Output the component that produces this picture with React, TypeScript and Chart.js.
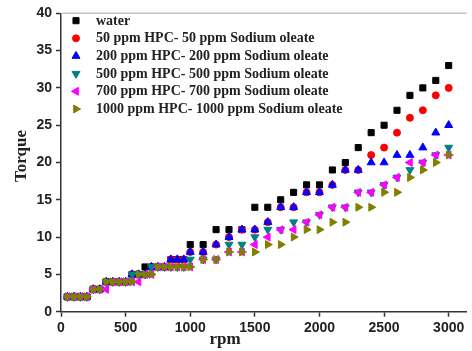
import React, { useEffect, useRef } from "react";
import { Chart, registerables } from "chart.js";

Chart.register(...registerables);

const rpm = [50, 100, 150, 200, 250, 300, 350, 400, 450, 500, 550, 600, 650, 700, 750, 800, 850, 900, 950, 1000,
  1100, 1200, 1300, 1400, 1500, 1600, 1700, 1800, 1900, 2000, 2100, 2200, 2300, 2400, 2500, 2600, 2700, 2800, 2900, 3000];

const water = [2, 2, 2, 2, 3, 3, 4, 4, 4, 4, 5, 5, 6, 6, 6, 6, 7, 7, 7, 9,
  9, 11, 11, 11, 14, 14, 15, 16, 17, 17, 19, 20, 22, 24, 25, 27, 29, 30, 31, 33];
const hpc50 = [2, 2, 2, 2, 3, 3, 4, 4, 4, 4, 5, 5, 5, 6, 6, 6, 7, 7, 7, 8,
  8, 9, 10, 11, 11, 12, 14, 14, 16, 16, 17, 19, 19, 21, 22, 24, 26, 27, 29, 30];
const hpc200 = [2, 2, 2, 2, 3, 3, 4, 4, 4, 4, 5, 5, 5, 6, 6, 6, 7, 7, 7, 8,
  8, 9, 10, 11, 11, 12, 14, 14, 16, 16, 17, 19, 19, 20, 20, 21, 21, 22, 24, 25];
const hpc500 = [2, 2, 2, 2, 3, 3, 4, 4, 4, 4, 5, 5, 5, 6, 6, 6, 6, 6, 6, 7,
  7, 7, 9, 9, 10, 11, 11, 12, 12, 13, 14, 14, 16, 16, 17, 18, 19, 20, 21, 22];
const hpc700 = [2, 2, 2, 2, 3, 3, 3, 4, 4, 4, 4, 4, 5, 5, 6, 6, 6, 6, 6, 6,
  7, 7, 8, 8, 9, 10, 11, 11, 12, 13, 14, 14, 16, 16, 17, 18, 20, 20, 21, 21];
const hpc1000 = [2, 2, 2, 2, 3, 3, 4, 4, 4, 4, 4, 5, 5, 5, 6, 6, 6, 6, 6, 6,
  7, 7, 8, 8, 8, 9, 9, 10, 11, 11, 12, 12, 14, 14, 16, 16, 18, 19, 20, 21];

const seriesLabels = [
  "water",
  "50 ppm HPC- 50 ppm Sodium oleate",
  "200 ppm HPC- 200 ppm Sodium oleate",
  "500 ppm HPC- 500 ppm Sodium oleate",
  "700 ppm HPC- 700 ppm Sodium oleate",
  "1000 ppm HPC- 1000 ppm Sodium oleate",
];
const seriesValues = [water, hpc50, hpc200, hpc500, hpc700, hpc1000];
const seriesColors = ["#000000", "#ff0000", "#0000ff", "#008080", "#ff00ff", "#808000"];
const seriesStyles = ["rect", "circle", "triangle", "triangle", "triangle", "triangle"];
const seriesRotations = [0, 0, 0, 180, 270, 90];
const seriesRadius = [4.3, 3.5, 4.6, 4.6, 4.6, 4.6];

const xTicks = [0, 500, 1000, 1500, 2000, 2500, 3000];
const yTicks = [0, 5, 10, 15, 20, 25, 30, 35, 40];
const xTitle = "rpm";
const yTitle = "Torque";

const W = 472;
const H = 351;

export default function App() {
  const ref = useRef<HTMLCanvasElement | null>(null);

  useEffect(() => {
    if (!ref.current) return;

    const overlay = {
      id: "overlay",
      afterDraw(chart: any) {
        const ctx = chart.ctx;
        const area = chart.chartArea;
        ctx.save();
        // top frame line
        ctx.strokeStyle = "#c4c4c4";
        ctx.lineWidth = 1.5;
        ctx.beginPath();
        ctx.moveTo(area.left, area.top);
        ctx.lineTo(area.right, area.top);
        ctx.stroke();

        // legend
        const rowY0 = 20.7;
        const rowStep = 17.66;
        ctx.font = "bold 14px 'Liberation Serif', 'Times New Roman', serif";
        ctx.textBaseline = "middle";
        ctx.textAlign = "left";
        seriesLabels.forEach((lab, i) => {
          const y = rowY0 + i * rowStep;
          ctx.fillStyle = seriesColors[i];
          ctx.strokeStyle = seriesColors[i];
          ctx.lineWidth = 1;
          drawPoint(ctx, seriesStyles[i], seriesRadius[i], seriesRotations[i], 76, y);
          ctx.fillStyle = "#222222";
          ctx.fillText(lab, 96, y + 0.5);
        });

        // axis titles
        ctx.fillStyle = "#222222";
        ctx.font = "bold 17px 'Liberation Serif', 'Times New Roman', serif";
        ctx.textAlign = "center";
        ctx.textBaseline = "alphabetic";
        ctx.fillText(xTitle, 225, 344);
        ctx.translate(26, 156);
        ctx.rotate(-Math.PI / 2);
        ctx.fillText(yTitle, 0, 0);
        ctx.restore();
      },
    };

    const datasets = seriesLabels.map((lab, i) => ({
      label: lab,
      data: rpm.map((r, j) => ({ x: r, y: seriesValues[i][j] })),
      backgroundColor: seriesColors[i],
      borderColor: seriesColors[i],
      borderWidth: 1,
      pointStyle: seriesStyles[i],
      pointRotation: seriesRotations[i],
      pointRadius: seriesRadius[i],
      pointHoverRadius: seriesRadius[i],
      showLine: false,
      order: seriesLabels.length - 1 - i,
    }));

    const tickFont = { family: "'Liberation Sans', Arial, sans-serif", size: 14, weight: "bold" as const };

    const chart = new Chart(ref.current, {
      type: "scatter",
      data: { datasets: datasets as any },
      plugins: [overlay],
      options: {
        responsive: false,
        animation: false,
        devicePixelRatio: 1,
        layout: { padding: { top: 13.3, right: 0, left: 0, bottom: 0 } },
        plugins: { legend: { display: false }, tooltip: { enabled: false } },
        scales: {
          x: {
            type: "linear",
            min: 0,
            max: 3137,
            afterFit: (s: any) => {
              s.height = H - 311.7;
            },
            afterBuildTicks: (s: any) => {
              s.ticks = xTicks.map((v) => ({ value: v }));
            },
            ticks: {
              font: tickFont,
              color: "#222222",
              padding: 3,
              autoSkip: false,
              maxRotation: 0,
              callback: (v: any) => String(v),
            },
            grid: { drawOnChartArea: false, drawTicks: true, tickLength: 5, color: "#333333", tickWidth: 1.5 },
            border: { display: true, color: "#333333", width: 1.5 },
          },
          y: {
            type: "linear",
            min: 0,
            max: 40,
            afterFit: (s: any) => {
              s.width = 61;
            },
            afterBuildTicks: (s: any) => {
              s.ticks = yTicks.map((v) => ({ value: v }));
            },
            ticks: { font: tickFont, color: "#222222", padding: 4, callback: (v: any) => String(v) },
            grid: { drawOnChartArea: false, drawTicks: true, tickLength: 5, color: "#333333", tickWidth: 1.5 },
            border: { display: true, color: "#333333", width: 1.5 },
          },
        },
      } as any,
    });

    return () => chart.destroy();
  }, []);

  return (
    <div style={{ position: "fixed", left: 0, top: 0, width: W, height: H, background: "#ffffff" }}>
      <canvas ref={ref} width={W} height={H} style={{ display: "block", width: W, height: H }} />
    </div>
  );
}

function drawPoint(ctx: CanvasRenderingContext2D, style: string, r: number, rotDeg: number, x: number, y: number) {
  ctx.save();
  ctx.translate(x, y);
  ctx.rotate((rotDeg * Math.PI) / 180);
  ctx.beginPath();
  if (style === "rect") {
    const s = r * Math.SQRT1_2;
    ctx.rect(-s, -s, 2 * s, 2 * s);
  } else if (style === "circle") {
    ctx.arc(0, 0, r, 0, Math.PI * 2);
  } else {
    const side = (3 * r) / Math.sqrt(3);
    const h = (side * Math.sqrt(3)) / 2;
    ctx.moveTo(0, -(2 / 3) * h);
    ctx.lineTo(side / 2, h / 3);
    ctx.lineTo(-side / 2, h / 3);
    ctx.closePath();
  }
  ctx.fill();
  ctx.stroke();
  ctx.restore();
}
